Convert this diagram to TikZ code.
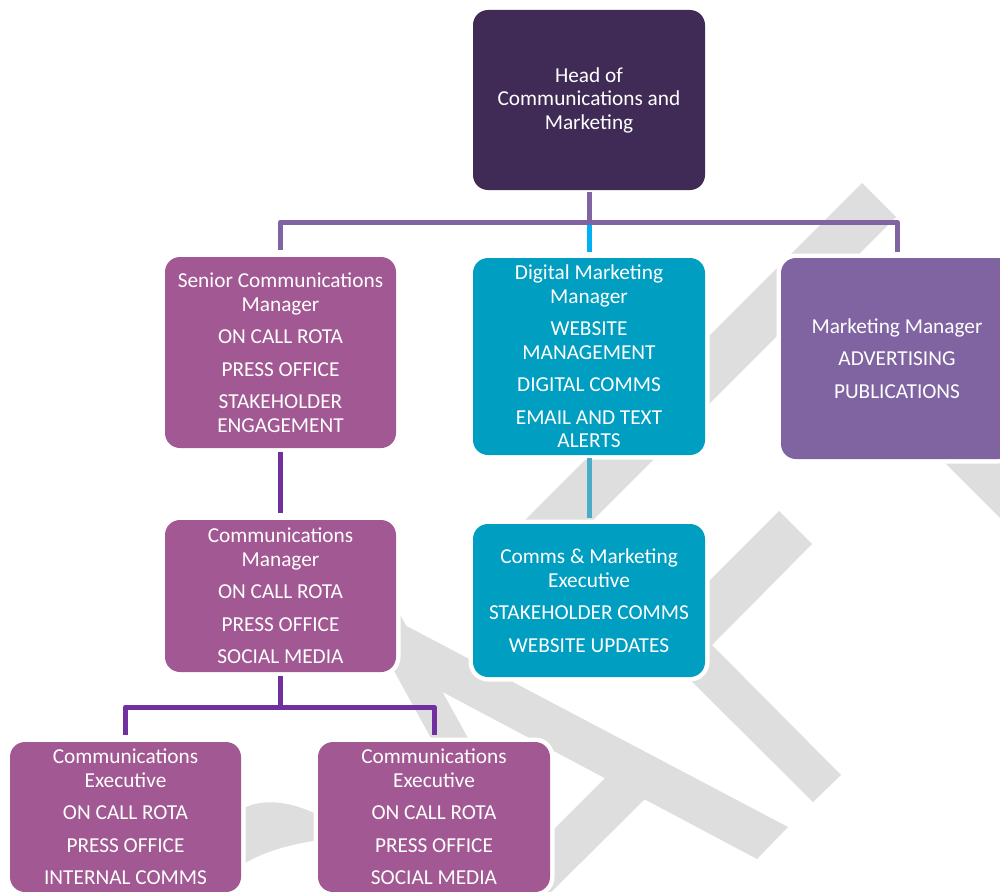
\documentclass[tikz,border=0pt]{standalone}
\usepackage{fontspec}
\setmainfont{Carlito}
\definecolor{headc}{RGB}{64,43,86}
\definecolor{magc}{RGB}{162,88,146}
\definecolor{tealc}{RGB}{0,158,193}
\definecolor{mmc}{RGB}{128,100,162}
\definecolor{cyanc}{RGB}{0,176,240}
\definecolor{darkpc}{RGB}{112,48,160}
\definecolor{tealln}{RGB}{75,172,198}
\definecolor{wmc}{RGB}{222,222,222}
\begin{document}
\begin{tikzpicture}[x=1pt,y=-1pt,
  box/.style={rectangle, rounded corners=15pt, text=white, align=center,
    font=\fontsize{21.3}{23.5}\selectfont, inner sep=0pt,
    preaction={draw=white, line width=9pt}},
  conn/.style={line width=5pt, line join=round},
  topline/.style={conn, draw=mmc},
  cyanline/.style={conn, draw=cyanc},
  darkline/.style={conn, draw=darkpc},
  tealline/.style={conn, draw=tealln},
  wm/.style={fill=wmc}]
\useasboundingbox (0,0) rectangle (1000,891);
% watermark
\fill[wm] (862,183) -- (896,217) -- (539,574) -- (505,540) -- cycle;
\fill[wm] (880,398) -- (1020,538) -- (1020,470) -- (950,400) -- cycle;
\fill[wm] (779,511) -- (812,544) -- (712,645) -- (841,775) -- (813,802) -- (650,640) -- cycle;
\fill[wm] (380,612) -- (788,827) -- (757,859) -- (420,680) -- cycle;
\fill[wm] (355,600) -- (392,600) -- (535,860) -- (498,860) -- cycle;
\fill[wm] (606,777) -- (646,798) -- (520,923) -- (460,923) -- cycle;
\fill[wm] (240,810) .. controls (260,798) and (290,800) .. (320,816) -- (320,840) .. controls (290,844) and (262,852) .. (240,866) -- cycle;
% boxes
\node[box, fill=headc, minimum width=232pt, minimum height=180pt] (head) at (589,100)
  {Head of\\Communications and\\Marketing};
\node[box, fill=magc, minimum width=231pt, minimum height=191pt] (senior) at (280.5,352.5)
  {Senior Communications\\Manager\\[9pt]ON CALL ROTA\\[9pt]PRESS OFFICE\\[9pt]STAKEHOLDER\\ENGAGEMENT};
\node[box, fill=tealc, minimum width=232pt, minimum height=197pt] (digital) at (589,356.5)
  {Digital Marketing\\Manager\\[9pt]WEBSITE\\MANAGEMENT\\[9pt]DIGITAL COMMS\\[9pt]EMAIL AND TEXT\\ALERTS};
\node[box, fill=mmc, minimum width=232pt, minimum height=201pt] (mm) at (897,358.5)
  {Marketing Manager\\[9pt]ADVERTISING\\[9pt]PUBLICATIONS};
\node[box, fill=magc, minimum width=231pt, minimum height=152pt] (cm) at (280.5,596)
  {Communications\\Manager\\[9pt]ON CALL ROTA\\[9pt]PRESS OFFICE\\[9pt]SOCIAL MEDIA};
\node[box, fill=tealc, minimum width=232pt, minimum height=153pt] (cme) at (589,600.5)
  {Comms \& Marketing\\Executive\\[9pt]STAKEHOLDER COMMS\\[9pt]WEBSITE UPDATES};
\node[box, fill=magc, minimum width=231pt, minimum height=150pt] (execl) at (125.5,817)
  {Communications\\Executive\\[9pt]ON CALL ROTA\\[9pt]PRESS OFFICE\\[9pt]INTERNAL COMMS};
\node[box, fill=magc, minimum width=232pt, minimum height=150pt] (execr) at (434,817)
  {Communications\\Executive\\[9pt]ON CALL ROTA\\[9pt]PRESS OFFICE\\[9pt]SOCIAL MEDIA};
% connectors
\coordinate (bar) at (589,222);
\coordinate (lbar) at (280.5,707);
\draw[cyanline, shorten >=6pt] (bar) -- (digital.north);
\draw[topline, shorten <=2pt] (head.south) -- (bar);
\draw[topline, shorten >=7pt] (bar) -| (senior.north);
\draw[topline, shorten >=6pt] (bar) -| (mm.north);
\draw[darkline, shorten <=4pt, shorten >=7pt] (senior.south) -- (cm.north);
\draw[tealline, shorten <=3pt, shorten >=6pt] (digital.south) -- (cme.north);
\draw[darkline, shorten <=4pt] (cm.south) -- (lbar);
\draw[darkline, shorten >=7pt] (lbar) -| (execl.north);
\draw[darkline, shorten >=7pt] (lbar) -| (execr.north);
\end{tikzpicture}
\end{document}
